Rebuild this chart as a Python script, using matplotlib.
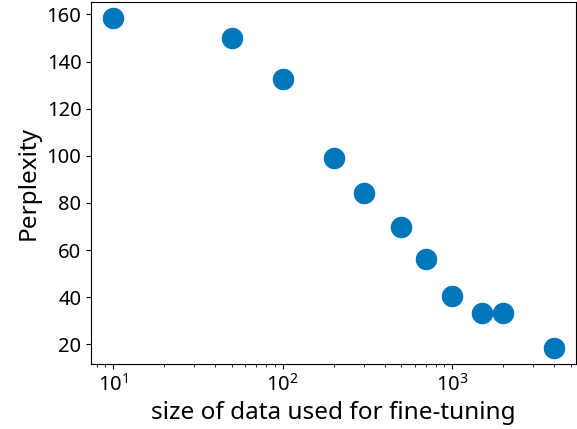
import matplotlib
matplotlib.use("Agg")
import matplotlib.pyplot as plt

plt.rcParams["font.family"] = ["Noto Sans", "DejaVu Sans"]

data_size = [10, 50, 100, 200, 300, 500, 700, 1000, 1500, 2000, 4000]
perplexity = [158.3, 150.2, 132.4, 98.9, 84.3, 69.7, 56.4, 40.4, 33.4, 33.4, 18.6]

fig = plt.figure(figsize=(5.77, 4.29), dpi=100)
ax = fig.add_axes([0.158, 0.1515, 0.8406, 0.8438])
ax.scatter(data_size, perplexity, s=210, color="#0077BB", zorder=3)
ax.set_xscale("log")
ax.set_xlabel("size of data used for fine-tuning", fontsize=17.5)
ax.set_ylabel("Perplexity", fontsize=17.5)
ax.tick_params(labelsize=14.5)
fig.savefig("out.png", dpi=100)
